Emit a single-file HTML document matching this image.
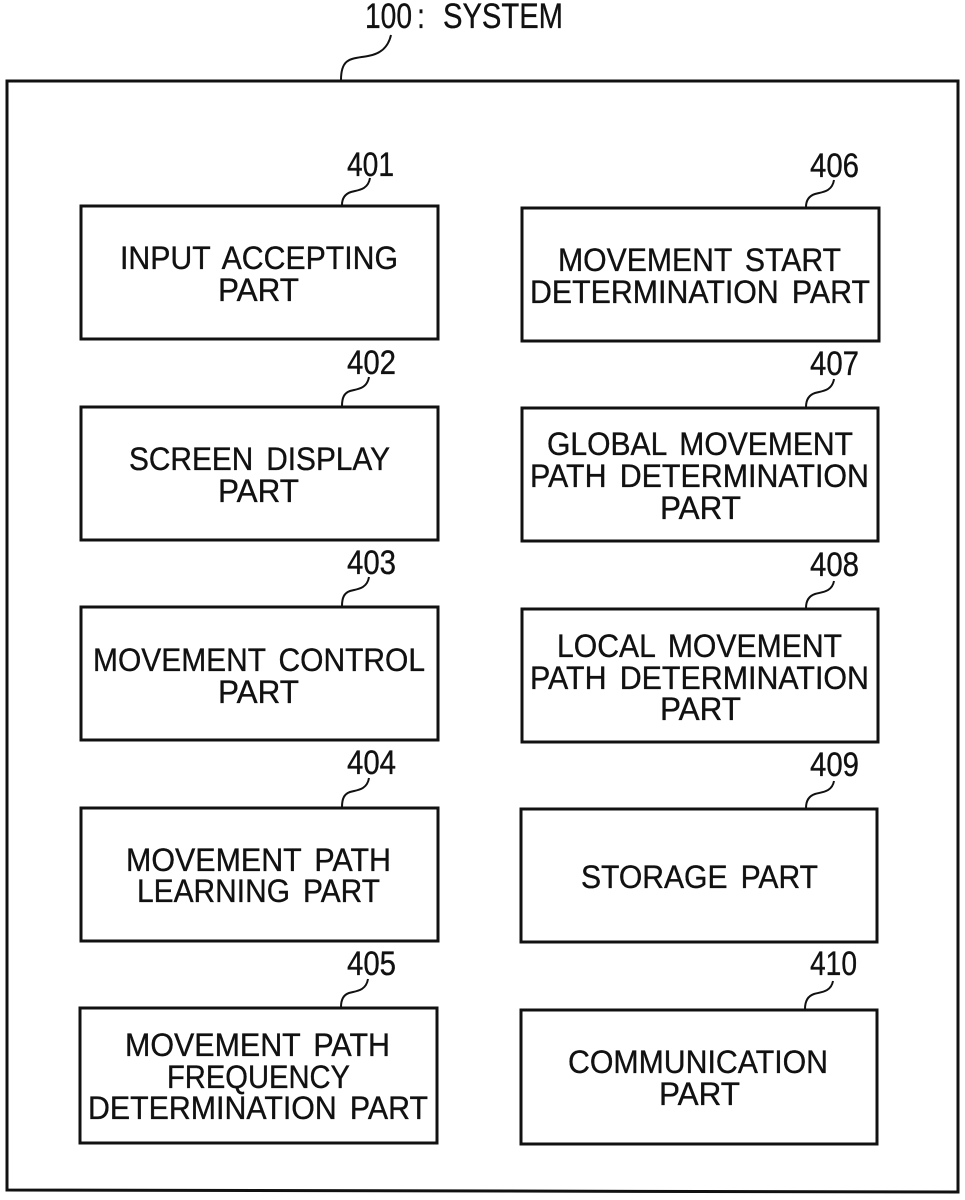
<!DOCTYPE html>
<html>
<head>
<meta charset="utf-8">
<style>
html,body{margin:0;padding:0;background:#fff;}
svg{display:block;}
text{font-family:"Liberation Sans",sans-serif;font-size:32px;fill:#111;stroke:#111;stroke-width:.35px;word-spacing:5px;}
text.n{font-size:34px;}
text.t{font-size:35px;}
rect,.b{fill:none;stroke:#111;stroke-width:3;}
.l{fill:none;stroke:#111;stroke-width:2;}
</style>
</head>
<body>
<svg width="965" height="1200" viewBox="0 0 965 1200" xmlns="http://www.w3.org/2000/svg">
<rect x="0" y="0" width="965" height="1200" style="fill:#fff;stroke:none"/>
<text class="t" x="365" y="28" textLength="47" lengthAdjust="spacingAndGlyphs">100</text>
<text class="t" x="417" y="28" textLength="8" lengthAdjust="spacingAndGlyphs">:</text>
<text class="t" x="443" y="28" textLength="120" lengthAdjust="spacingAndGlyphs">SYSTEM</text>
<path class="l" d="M391 35 C388 48 380 54 368 56 C352 59 341 57 341 80"/>
<path class="b" d="M7 81 L958 81 L958 1192 L7 1190 Z"/>

<rect x="81" y="206" width="357" height="133"/>
<rect x="81" y="407" width="357" height="133"/>
<rect x="81" y="607" width="357" height="133"/>
<rect x="81" y="808" width="357" height="133"/>
<rect x="80" y="1008" width="357" height="135"/>
<rect x="522" y="208" width="357" height="133"/>
<rect x="522" y="408" width="356" height="133"/>
<rect x="522" y="609" width="356" height="133"/>
<rect x="521" y="809" width="356" height="133"/>
<rect x="521" y="1010" width="356" height="134"/>

<path class="l" d="M370 178 C368 190 358 190 351 192 C345 194 342 198 342 205"/>
<path class="l" d="M369 377 C367 389 357 389 350 391 C344 393 342 398 342 406"/>
<path class="l" d="M369 577 C367 589 357 589 350 591 C344 593 342 598 342 606"/>
<path class="l" d="M369 778 C367 790 357 790 350 792 C344 794 342 799 342 807"/>
<path class="l" d="M368 979 C366 991 356 991 349 993 C343 995 341 1000 341 1007"/>
<path class="l" d="M834 180 C832 192 822 192 815 194 C809 196 806 200 806 207"/>
<path class="l" d="M834 379 C832 391 822 391 815 393 C809 395 806 400 806 407"/>
<path class="l" d="M834 581 C832 592 822 592 815 594 C809 596 806 601 806 608"/>
<path class="l" d="M834 781 C832 792 822 792 815 794 C809 796 806 801 806 808"/>
<path class="l" d="M833 981 C831 992 821 992 814 994 C808 996 805 1001 805 1009"/>

<text class="n" x="347" y="176" textLength="47" lengthAdjust="spacingAndGlyphs">401</text>
<text class="n" x="347" y="374" textLength="49" lengthAdjust="spacingAndGlyphs">402</text>
<text class="n" x="347" y="574" textLength="49" lengthAdjust="spacingAndGlyphs">403</text>
<text class="n" x="347" y="774" textLength="49" lengthAdjust="spacingAndGlyphs">404</text>
<text class="n" x="347" y="975" textLength="49" lengthAdjust="spacingAndGlyphs">405</text>
<text class="n" x="810" y="177" textLength="49" lengthAdjust="spacingAndGlyphs">406</text>
<text class="n" x="810" y="375" textLength="49" lengthAdjust="spacingAndGlyphs">407</text>
<text class="n" x="810" y="576" textLength="49" lengthAdjust="spacingAndGlyphs">408</text>
<text class="n" x="810" y="776" textLength="49" lengthAdjust="spacingAndGlyphs">409</text>
<text class="n" x="810" y="975" textLength="47" lengthAdjust="spacingAndGlyphs">410</text>

<text x="120" y="269" textLength="278" lengthAdjust="spacingAndGlyphs">INPUT ACCEPTING</text>
<text x="218" y="301" textLength="81" lengthAdjust="spacingAndGlyphs">PART</text>
<text x="129" y="470" textLength="261" lengthAdjust="spacingAndGlyphs">SCREEN DISPLAY</text>
<text x="218" y="502" textLength="81" lengthAdjust="spacingAndGlyphs">PART</text>
<text x="93" y="671" textLength="332" lengthAdjust="spacingAndGlyphs">MOVEMENT CONTROL</text>
<text x="218" y="703" textLength="81" lengthAdjust="spacingAndGlyphs">PART</text>
<text x="126" y="871" textLength="265" lengthAdjust="spacingAndGlyphs">MOVEMENT PATH</text>
<text x="137" y="902" textLength="243" lengthAdjust="spacingAndGlyphs">LEARNING PART</text>
<text x="125" y="1056" textLength="265" lengthAdjust="spacingAndGlyphs">MOVEMENT PATH</text>
<text x="167" y="1088" textLength="183" lengthAdjust="spacingAndGlyphs">FREQUENCY</text>
<text x="88" y="1119" textLength="340" lengthAdjust="spacingAndGlyphs">DETERMINATION PART</text>

<text x="558" y="271" textLength="283" lengthAdjust="spacingAndGlyphs">MOVEMENT START</text>
<text x="530" y="303" textLength="340" lengthAdjust="spacingAndGlyphs">DETERMINATION PART</text>
<text x="547" y="455" textLength="306" lengthAdjust="spacingAndGlyphs">GLOBAL MOVEMENT</text>
<text x="530" y="487" textLength="339" lengthAdjust="spacingAndGlyphs">PATH DETERMINATION</text>
<text x="660" y="519" textLength="81" lengthAdjust="spacingAndGlyphs">PART</text>
<text x="557" y="657" textLength="285" lengthAdjust="spacingAndGlyphs">LOCAL MOVEMENT</text>
<text x="530" y="689" textLength="339" lengthAdjust="spacingAndGlyphs">PATH DETERMINATION</text>
<text x="660" y="720" textLength="81" lengthAdjust="spacingAndGlyphs">PART</text>
<text x="581" y="888" textLength="237" lengthAdjust="spacingAndGlyphs">STORAGE PART</text>
<text x="568" y="1073" textLength="260" lengthAdjust="spacingAndGlyphs">COMMUNICATION</text>
<text x="659" y="1105" textLength="81" lengthAdjust="spacingAndGlyphs">PART</text>
</svg>
</body>
</html>
